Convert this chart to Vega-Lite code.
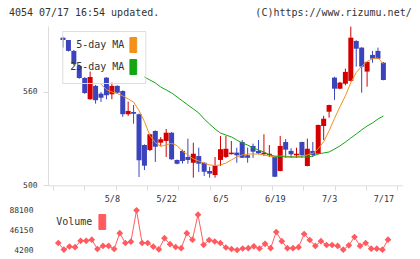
{
  "$schema": "https://vega.github.io/schema/vega-lite/v6.json",
  "background": "white",
  "padding": {"left": 8, "top": 8, "right": 10, "bottom": 5},
  "title": {"text": "4054 07/17 16:54 updated.\u00a0\u00a0\u00a0\u00a0\u00a0\u00a0\u00a0\u00a0\u00a0\u00a0\u00a0\u00a0\u00a0\u00a0\u00a0\u00a0(C)https://www.rizumu.net/", "anchor": "start", "font": "DejaVu Sans Mono", "fontSize": 10, "fontWeight": "normal", "color": "#333", "offset": 8},
  "spacing": -1,
  "resolve": {"scale": {"color": "independent"}},
  "datasets": {
    "candles": [
      {"i": 0, "open": 594.9, "high": 595.4, "low": 588.5, "close": 593.4, "vol": 19000, "ma5": null, "ma25": null},
      {"i": 1, "open": 593.4, "high": 593.4, "low": 586.0, "close": 586.4, "vol": 5000, "ma5": null, "ma25": null},
      {"i": 2, "open": 586.4, "high": 587.0, "low": 577.0, "close": 578.0, "vol": 11600, "ma5": null, "ma25": null},
      {"i": 3, "open": 576.7, "high": 577.5, "low": 568.5, "close": 569.0, "vol": 10100, "ma5": null, "ma25": null},
      {"i": 4, "open": 569.0, "high": 569.5, "low": 558.8, "close": 559.3, "vol": 23600, "ma5": null, "ma25": null},
      {"i": 5, "open": 555.3, "high": 573.1, "low": 555.0, "close": 569.6, "vol": 23600, "ma5": null, "ma25": null},
      {"i": 6, "open": 563.9, "high": 564.5, "low": 552.5, "close": 554.7, "vol": 26000, "ma5": null, "ma25": null},
      {"i": 7, "open": 558.9, "high": 560.0, "low": 553.6, "close": 556.3, "vol": 6300, "ma5": 565.0, "ma25": null},
      {"i": 8, "open": 569.2, "high": 569.5, "low": 555.3, "close": 557.9, "vol": 12700, "ma5": 561.5, "ma25": null},
      {"i": 9, "open": 558.5, "high": 566.0, "low": 555.3, "close": 563.9, "vol": 12700, "ma5": 560.0, "ma25": null},
      {"i": 10, "open": 563.9, "high": 564.3, "low": 559.0, "close": 559.5, "vol": 6300, "ma5": 559.0, "ma25": null},
      {"i": 11, "open": 560.6, "high": 561.0, "low": 544.0, "close": 545.7, "vol": 39700, "ma5": 557.5, "ma25": null},
      {"i": 12, "open": 545.7, "high": 553.8, "low": 544.6, "close": 547.8, "vol": 19000, "ma5": 555.5, "ma25": null},
      {"i": 13, "open": 547.1, "high": 551.6, "low": 539.6, "close": 546.0, "vol": 21700, "ma5": 553.5, "ma25": null},
      {"i": 14, "open": 545.7, "high": 546.0, "low": 505.3, "close": 516.1, "vol": 88100, "ma5": 548.0, "ma25": null},
      {"i": 15, "open": 525.9, "high": 526.3, "low": 509.8, "close": 512.6, "vol": 19000, "ma5": 541.0, "ma25": 569.6},
      {"i": 16, "open": 522.7, "high": 533.2, "low": 522.0, "close": 532.8, "vol": 19000, "ma5": 532.0, "ma25": 567.7},
      {"i": 17, "open": 534.9, "high": 535.3, "low": 515.0, "close": 524.8, "vol": 11200, "ma5": 527.5, "ma25": 565.8},
      {"i": 18, "open": 527.4, "high": 531.0, "low": 525.3, "close": 529.6, "vol": 5700, "ma5": 525.0, "ma25": 563.2},
      {"i": 19, "open": 528.5, "high": 536.2, "low": 518.2, "close": 533.8, "vol": 29100, "ma5": 526.0, "ma25": 561.3},
      {"i": 20, "open": 533.8, "high": 534.2, "low": 516.4, "close": 516.7, "vol": 16500, "ma5": 527.0, "ma25": 559.4},
      {"i": 21, "open": 516.3, "high": 516.6, "low": 513.5, "close": 513.9, "vol": 10500, "ma5": 525.5, "ma25": 556.8},
      {"i": 22, "open": 522.1, "high": 523.0, "low": 514.0, "close": 515.6, "vol": 8000, "ma5": 522.0, "ma25": 554.2},
      {"i": 23, "open": 518.2, "high": 530.0, "low": 513.9, "close": 516.3, "vol": 39700, "ma5": 519.5, "ma25": 551.6},
      {"i": 24, "open": 514.5, "high": 527.4, "low": 504.9, "close": 520.3, "vol": 26000, "ma5": 517.0, "ma25": 549.1},
      {"i": 25, "open": 518.8, "high": 524.2, "low": 508.5, "close": 513.9, "vol": 78800, "ma5": 515.6, "ma25": 546.5},
      {"i": 26, "open": 514.5, "high": 514.8, "low": 506.0, "close": 508.7, "vol": 15200, "ma5": 514.3, "ma25": 542.6},
      {"i": 27, "open": 509.2, "high": 511.8, "low": 504.9, "close": 507.5, "vol": 25300, "ma5": 513.1, "ma25": 539.4},
      {"i": 28, "open": 506.6, "high": 518.2, "low": 504.9, "close": 512.4, "vol": 22200, "ma5": 512.7, "ma25": 536.2},
      {"i": 29, "open": 516.3, "high": 531.7, "low": 512.4, "close": 523.2, "vol": 19000, "ma5": 513.1, "ma25": 533.6},
      {"i": 30, "open": 518.2, "high": 531.7, "low": 517.5, "close": 523.5, "vol": 9500, "ma5": 514.3, "ma25": 532.3},
      {"i": 31, "open": 520.0, "high": 528.5, "low": 519.8, "close": 521.0, "vol": 6300, "ma5": 516.3, "ma25": 531.1},
      {"i": 32, "open": 521.0, "high": 524.2, "low": 514.5, "close": 519.3, "vol": 4200, "ma5": 518.2, "ma25": 529.1},
      {"i": 33, "open": 527.8, "high": 529.1, "low": 517.5, "close": 517.7, "vol": 7400, "ma5": 519.5, "ma25": 527.2},
      {"i": 34, "open": 519.3, "high": 524.2, "low": 514.5, "close": 517.7, "vol": 8000, "ma5": 520.1, "ma25": 525.9},
      {"i": 35, "open": 525.3, "high": 526.8, "low": 517.6, "close": 521.6, "vol": 12000, "ma5": 520.1, "ma25": 524.0},
      {"i": 36, "open": 522.1, "high": 529.1, "low": 519.9, "close": 520.6, "vol": 7400, "ma5": 520.1, "ma25": 522.7},
      {"i": 37, "open": 520.0, "high": 532.8, "low": 518.8, "close": 521.0, "vol": 17300, "ma5": 519.5, "ma25": 521.4},
      {"i": 38, "open": 519.5, "high": 525.9, "low": 518.2, "close": 520.3, "vol": 8000, "ma5": 518.8, "ma25": 519.5},
      {"i": 39, "open": 518.2, "high": 518.5, "low": 505.3, "close": 505.5, "vol": 42200, "ma5": 518.2, "ma25": 518.8},
      {"i": 40, "open": 509.2, "high": 531.7, "low": 509.0, "close": 525.3, "vol": 22800, "ma5": 518.8, "ma25": 518.5},
      {"i": 41, "open": 527.8, "high": 529.7, "low": 517.7, "close": 522.9, "vol": 8000, "ma5": 518.8, "ma25": 518.2},
      {"i": 42, "open": 522.1, "high": 523.8, "low": 517.7, "close": 519.9, "vol": 8000, "ma5": 518.2, "ma25": 518.2},
      {"i": 43, "open": 519.3, "high": 524.2, "low": 517.7, "close": 520.3, "vol": 10100, "ma5": 518.2, "ma25": 518.2},
      {"i": 44, "open": 527.8, "high": 528.0, "low": 517.7, "close": 519.3, "vol": 38000, "ma5": 518.8, "ma25": 518.2},
      {"i": 45, "open": 512.4, "high": 530.0, "low": 512.2, "close": 523.5, "vol": 25300, "ma5": 519.5, "ma25": 518.2},
      {"i": 46, "open": 522.1, "high": 527.8, "low": 518.2, "close": 519.5, "vol": 12700, "ma5": 520.5, "ma25": 518.8},
      {"i": 47, "open": 520.3, "high": 539.0, "low": 520.0, "close": 538.8, "vol": 22800, "ma5": 523.5, "ma25": 520.1},
      {"i": 48, "open": 538.1, "high": 544.6, "low": 529.1, "close": 542.8, "vol": 14800, "ma5": 528.0, "ma25": 520.8},
      {"i": 49, "open": 547.3, "high": 551.8, "low": 543.5, "close": 551.6, "vol": 14800, "ma5": 535.0, "ma25": 521.4},
      {"i": 50, "open": 569.2, "high": 569.8, "low": 554.9, "close": 562.1, "vol": 12700, "ma5": 543.0, "ma25": 523.3},
      {"i": 51, "open": 562.1, "high": 566.5, "low": 561.8, "close": 566.0, "vol": 4800, "ma5": 550.5, "ma25": 525.3},
      {"i": 52, "open": 565.3, "high": 575.0, "low": 564.3, "close": 572.9, "vol": 14100, "ma5": 557.5, "ma25": 527.8},
      {"i": 53, "open": 567.1, "high": 602.0, "low": 566.8, "close": 594.9, "vol": 31700, "ma5": 566.0, "ma25": 530.4},
      {"i": 54, "open": 592.8, "high": 593.2, "low": 576.3, "close": 587.8, "vol": 12700, "ma5": 572.5, "ma25": 533.0},
      {"i": 55, "open": 588.5, "high": 588.8, "low": 559.5, "close": 576.3, "vol": 19000, "ma5": 576.5, "ma25": 535.6},
      {"i": 56, "open": 573.1, "high": 579.5, "low": 563.4, "close": 579.3, "vol": 7000, "ma5": 579.5, "ma25": 538.1},
      {"i": 57, "open": 583.8, "high": 586.4, "low": 578.8, "close": 581.4, "vol": 7000, "ma5": 581.5, "ma25": 540.1},
      {"i": 58, "open": 586.4, "high": 588.5, "low": 581.2, "close": 581.4, "vol": 4800, "ma5": 581.8, "ma25": 542.6},
      {"i": 59, "open": 578.8, "high": 579.3, "low": 567.5, "close": 567.7, "vol": 26000, "ma5": 578.0, "ma25": 544.6}
    ]
  },
  "vconcat": [
    {
      "width": 354.3,
      "height": 159.3,
      "data": {"name": "candles"},
      "resolve": {"axis": {"x": "independent"}},
      "layer": [
        {
          "mark": {"type": "rule", "strokeWidth": 1},
          "encoding": {
            "x": {"field": "i", "type": "quantitative", "scale": {"domain": [-1.84, 61.56], "nice": false, "zero": false},
                  "axis": {"orient": "bottom", "title": null, "values": [-1.84, 3.92, 9.69, 15.45, 21.22, 26.98, 32.75, 38.51, 44.27, 50.04, 55.8, 61.56], "labels": false, "tickSize": 5, "tickColor": "#ddd", "domainColor": "#ddd", "grid": false}},
            "y": {"field": "low", "type": "quantitative", "scale": {"domain": [500, 602.4], "nice": false, "zero": false},
                  "axis": {"title": null, "values": [500, 560], "tickSize": 5, "labelPadding": 6, "labelFontSize": 8, "labelFont": "DejaVu Sans Mono", "labelColor": "#333", "tickColor": "#ddd", "domainColor": "#ddd", "grid": false}},
            "y2": {"field": "high"},
            "color": {"condition": {"test": "datum.close > datum.open", "value": "#d40000"}, "value": "#3b44bd"}
          }
        },
        {
          "mark": {"type": "bar", "size": 5},
          "encoding": {
            "x": {"field": "i", "type": "quantitative", "axis": null},
            "y": {"field": "open", "type": "quantitative", "axis": {"title": null}},
            "y2": {"field": "close"},
            "color": {"condition": {"test": "datum.close > datum.open", "value": "#d40000"}, "value": "#3b44bd"}
          }
        },
        {
          "transform": [{"fold": ["ma5", "ma25"], "as": ["series", "ma"]}, {"filter": "isValid(datum.ma)"}],
          "mark": {"type": "line", "strokeWidth": 1},
          "encoding": {
            "x": {"field": "i", "type": "quantitative",
                  "axis": {"orient": "bottom", "title": null, "values": [9, 19, 29, 39, 49, 59], "ticks": false, "domain": false, "labelPadding": 9.5, "labelFontSize": 8.5, "labelFont": "DejaVu Sans Mono", "labelColor": "#333", "grid": false,
                           "labelExpr": "datum.value == 9 ? '5/8' : datum.value == 19 ? '5/22' : datum.value == 29 ? '6/5' : datum.value == 39 ? '6/19' : datum.value == 49 ? '7/3' : '7/17'"}},
            "y": {"field": "ma", "type": "quantitative", "axis": {"title": null}},
            "color": {"field": "series", "type": "nominal", "scale": {"domain": ["ma5", "ma25"], "range": ["#f39019", "#12a612"]},
                      "legend": {"orient": "none", "legendX": 14.3, "legendY": 5, "title": null, "direction": "vertical", "strokeColor": "#ddd", "padding": 6,
                                 "symbolType": "M-0.45,-1H0.45V1H-0.45Z", "symbolSize": 225, "symbolStrokeWidth": 1, "symbolOffset": 57,
                                 "labelAlign": "right", "labelOffset": -17, "labelFont": "DejaVu Sans Mono", "labelFontSize": 10, "labelColor": "#333", "rowPadding": 2,
                                 "labelExpr": "datum.value == 'ma5' ? '5-day MA' : '25-day MA'",
                                 "encode": {"symbols": {"update": {"fill": {"signal": "datum.value == 'ma5' ? '#f39019' : '#12a612'"}, "stroke": {"value": "#444"}, "strokeWidth": {"value": 1}}}}}}
          }
        }
      ]
    },
    {
      "width": 354.3,
      "height": 50,
      "data": {"name": "candles"},
      "mark": {"type": "line", "strokeWidth": 1, "point": {"filled": true, "shape": "diamond", "size": 45}},
      "encoding": {
        "x": {"field": "i", "type": "quantitative", "scale": {"domain": [-1.84, 61.56], "nice": false, "zero": false}, "axis": null},
        "y": {"field": "vol", "type": "quantitative", "scale": {"domain": [-4250, 101400], "nice": false, "zero": false},
              "axis": {"title": null, "values": [4200, 46150, 88100], "format": "d", "domain": false, "ticks": false, "grid": false, "labelPadding": 15, "labelFontSize": 8, "labelFont": "DejaVu Sans Mono", "labelColor": "#333"}},
        "color": {"datum": "Volume", "type": "nominal", "scale": {"range": ["#ff5a5f"]},
                  "legend": {"orient": "none", "legendX": 7.3, "legendY": 10, "title": null, "padding": 0,
                             "symbolType": "M-0.45,-1H0.45V1H-0.45Z", "symbolSize": 225, "symbolStrokeWidth": 1, "symbolOffset": 39,
                             "labelAlign": "right", "labelOffset": -18, "labelFont": "DejaVu Sans Mono", "labelFontSize": 10, "labelColor": "#333",
                             "encode": {"symbols": {"update": {"fill": {"value": "#ff5a5f"}, "stroke": {"value": "#444"}, "strokeWidth": {"value": 1}}}}}}
      }
    }
  ],
  "config": {"view": {"stroke": null}}
}
